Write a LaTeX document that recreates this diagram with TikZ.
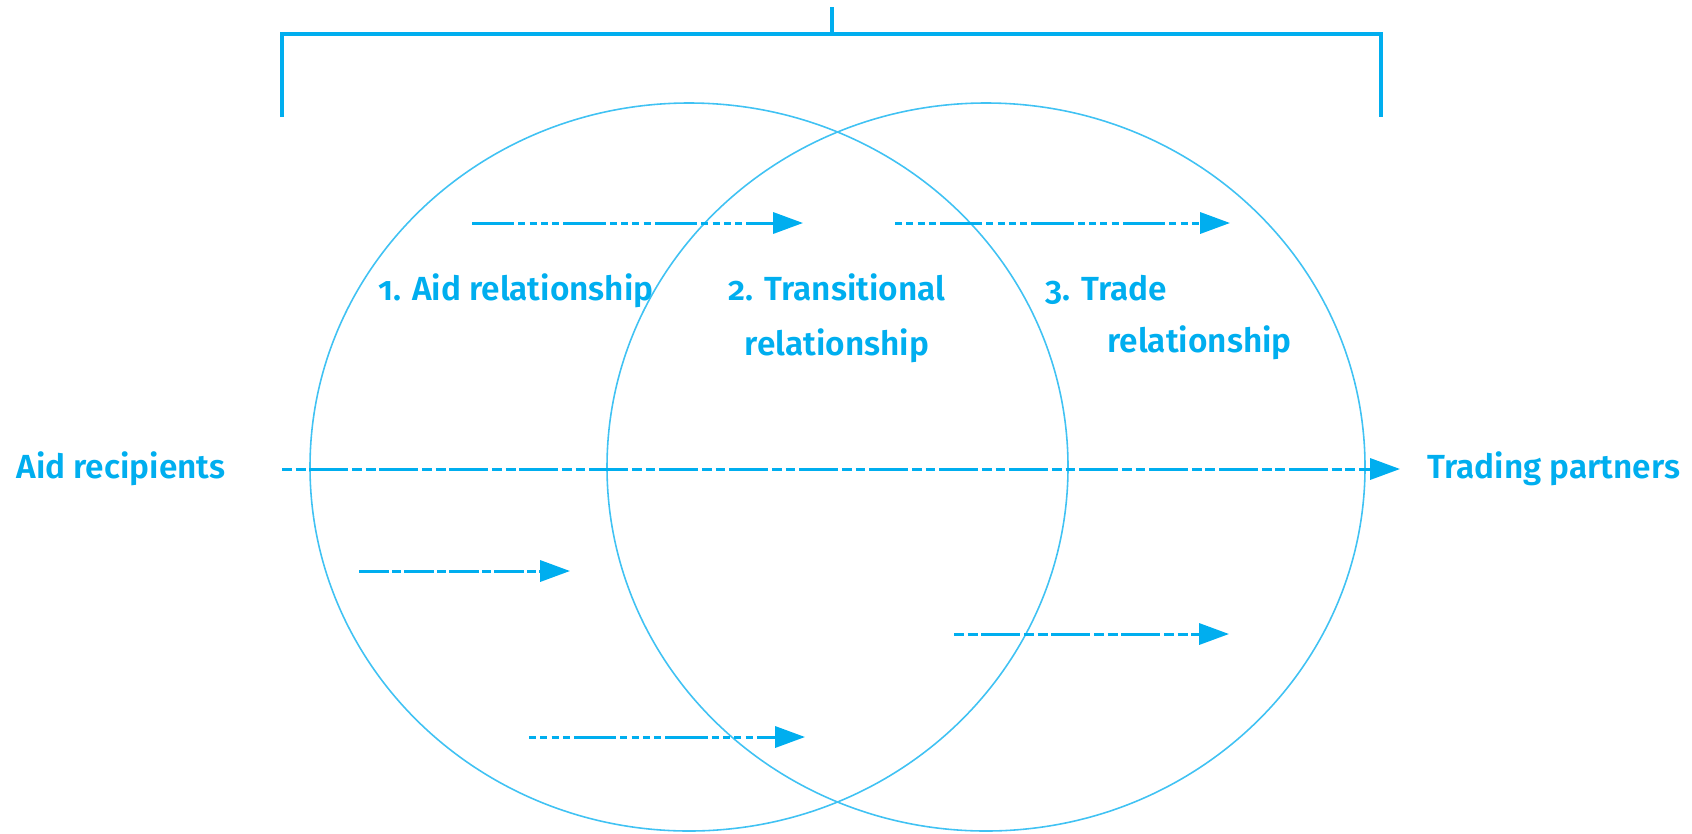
\documentclass[tikz,border=0pt]{standalone}
\usepackage{fontspec}
\setmainfont{Fira Sans}[Numbers=OldStyle, BoldFont=* SemiBold]
\usetikzlibrary{arrows.meta}
\definecolor{aidblue}{RGB}{0,174,239}
\begin{document}
\begin{tikzpicture}[x=0.01cm,y=-0.01cm,
  flow/.style={aidblue, line width=0.85pt, -{Triangle[length=8.5pt,width=6pt]}},
  mixA/.style={dash pattern=on 2.8pt off 1.1pt on 2.8pt off 1.1pt on 11pt off 1.1pt},
  mixB/.style={dash pattern=on 8.5pt off 1pt on 2.3pt off 1pt},
  mixC/.style={dash pattern=on 2pt off 1.2pt on 2pt off 1.2pt on 2pt off 1.2pt on 2pt off 1.2pt on 12pt off 1.2pt},
  mixD/.style={dash pattern=on 12pt off 1.2pt on 2pt off 1.2pt on 2pt off 1.2pt on 2pt off 1.2pt on 2pt off 1.2pt},
  ring/.style={aidblue!75, line width=0.45pt},
  lbl/.style={text=aidblue, font=\bfseries\fontsize{9.5}{15.5}\selectfont, align=center}]
\useasboundingbox (0,0) rectangle (1692,833);
% Bracket on top
\coordinate (BL) at (282,117);
\coordinate (BR) at (1381,117);
\coordinate (TL) at (282,34);
\coordinate (TR) at (1381,34);
\coordinate (T) at (832,34);
\coordinate (Tup) at (832,7);
\draw[aidblue, line width=1pt] (BL) -- (TL) -- (TR) -- (BR);
\draw[aidblue, line width=1pt] (T) -- (Tup);
% The two circles
\draw[ring] (689,467) ellipse [x radius=379, y radius=364];
\draw[ring] (986,467) ellipse [x radius=379, y radius=364];
% Labels
\node[lbl, anchor=base] (aidrec) at (121,478) {Aid recipients};
\node[lbl, anchor=base west] (trade) at (1415,478) {Trading partners};
\node[lbl, anchor=base] (rel1) at (516,300) {1. Aid relationship};
\node[lbl, anchor=base] (rel2) at (837,355) {2. Transitional\\relationship};
\node[lbl, anchor=base west] (rel3) at (1033,300) {3. Trade};
\node[lbl, anchor=base west] (rel3b) at (1095,352) {relationship};
% Main axis
\coordinate (start) at (282,469);
\coordinate (end) at (1400,469);
\draw[flow, mixA] (start) -- (end);
% Small arrows
\coordinate (a1) at (472,223);
\coordinate (b1) at (803,223);
\coordinate (a2) at (895,223);
\coordinate (b2) at (1230,223);
\coordinate (a3) at (359,571);
\coordinate (b3) at (570,571);
\coordinate (a4) at (529,737);
\coordinate (b4) at (805,737);
\coordinate (a5) at (954,634);
\coordinate (b5) at (1229,634);
\draw[flow, mixD] (a1) -- (b1);
\draw[flow, mixC] (a2) -- (b2);
\draw[flow, mixB] (a3) -- (b3);
\draw[flow, mixC] (a4) -- (b4);
\draw[flow, mixA] (a5) -- (b5);
\end{tikzpicture}
\end{document}
